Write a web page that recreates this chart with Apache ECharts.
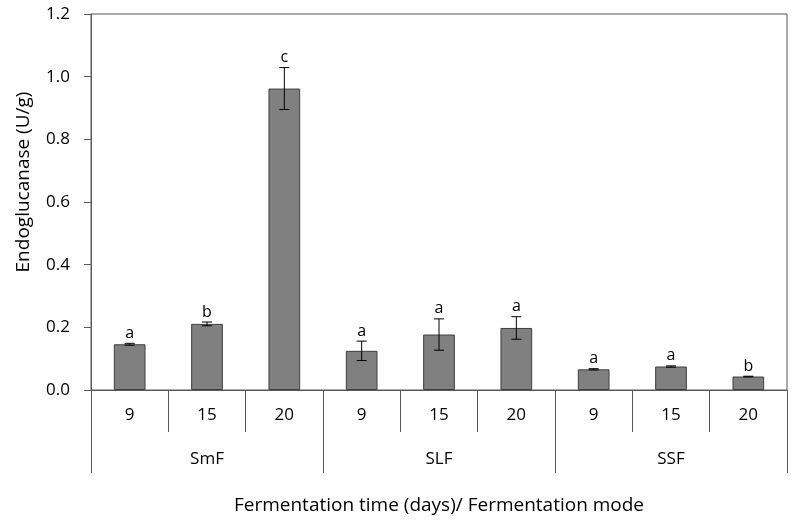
<!DOCTYPE html>
<html>
<head>
<meta charset="utf-8">
<script src="https://cdn.jsdelivr.net/npm/echarts@6/dist/echarts.min.js"></script>
<style>html,body{margin:0;padding:0;background:#fff}#c{width:794px;height:526px}</style>
</head>
<body>
<div id="c"></div>
<script>
var groups = ['SmF', 'SLF', 'SSF'];
var times = ['9', '15', '20'];
var values = [0.146, 0.211, 0.962, 0.125, 0.177, 0.198, 0.066, 0.075, 0.043];
var errors = [0.003, 0.006, 0.067, 0.031, 0.050, 0.036, 0.002, 0.002, 0.001];
var letters = ['a', 'b', 'c', 'a', 'a', 'a', 'a', 'a', 'b'];
var yTicks = ['0.0', '0.2', '0.4', '0.6', '0.8', '1.0', '1.2'];

var categories = [];
groups.forEach(function (g) { times.forEach(function (t) { categories.push(g + '|' + t); }); });

var FONT = 'Open Sans';
var chart = echarts.init(document.getElementById('c'));
chart.setOption({
  animation: false,
  grid: { left: 91, right: 7, top: 14, bottom: 136, show: true, borderColor: '#595959', borderWidth: 1, containLabel: false },
  xAxis: [{
    type: 'category',
    data: categories,
    boundaryGap: true,
    axisLine: { lineStyle: { color: '#595959', width: 1 } },
    axisTick: { show: true, interval: 0, length: 42, lineStyle: { color: '#595959' } },
    axisLabel: { interval: 0, margin: 17, fontFamily: FONT, fontSize: 17, color: '#000',
      formatter: function (v) { return v.split('|')[1]; } },
    name: 'Fermentation time (days)/ Fermentation mode',
    nameLocation: 'middle', nameGap: 106,
    nameTextStyle: { fontFamily: FONT, fontSize: 19, color: '#000' }
  }, {
    type: 'category',
    data: groups,
    position: 'bottom',
    boundaryGap: true,
    axisLine: { show: false },
    axisTick: { show: true, interval: 0, length: 83, lineStyle: { color: '#595959' } },
    axisLabel: { interval: 0, margin: 61, fontFamily: FONT, fontSize: 17, color: '#000' }
  }],
  yAxis: {
    type: 'value', min: 0, max: 1.2, interval: 0.2,
    splitLine: { show: false },
    axisLine: { show: true, lineStyle: { color: '#595959' } },
    axisTick: { show: true, length: 7, lineStyle: { color: '#595959' } },
    axisLabel: { margin: 21, fontFamily: FONT, fontSize: 17, color: '#000',
      formatter: function (v) { return yTicks[Math.round(v / 0.2)]; } },
    name: 'Endoglucanase (U/g)', nameLocation: 'middle', nameGap: 58,
    nameTextStyle: { fontFamily: FONT, fontSize: 19, color: '#000', padding: [0, 0, 0, 40] }
  },
  series: [{
    type: 'bar',
    data: values,
    barWidth: '41%',
    itemStyle: { color: '#808080', borderColor: '#3f3f3f', borderWidth: 1 }
  }, {
    type: 'custom',
    data: values.map(function (v, i) { return [i, v, errors[i]]; }),
    z: 10,
    renderItem: function (params, api) {
      var i = api.value(0), v = api.value(1), e = api.value(2);
      var top = api.coord([i, v + e]);
      var bot = api.coord([i, v - e]);
      var cap = 5;
      var st = { stroke: '#000', lineWidth: 1 };
      return {
        type: 'group',
        children: [
          { type: 'line', shape: { x1: top[0], y1: top[1], x2: bot[0], y2: bot[1] }, style: st },
          { type: 'line', shape: { x1: top[0] - cap, y1: top[1], x2: top[0] + cap, y2: top[1] }, style: st },
          { type: 'line', shape: { x1: bot[0] - cap, y1: bot[1], x2: bot[0] + cap, y2: bot[1] }, style: st },
          { type: 'text', x: top[0], y: top[1] - 2,
            style: { text: letters[params.dataIndex], fill: '#000', font: '16px "' + FONT + '"', align: 'center', verticalAlign: 'bottom' } }
        ]
      };
    }
  }]
});
</script>
</body>
</html>
